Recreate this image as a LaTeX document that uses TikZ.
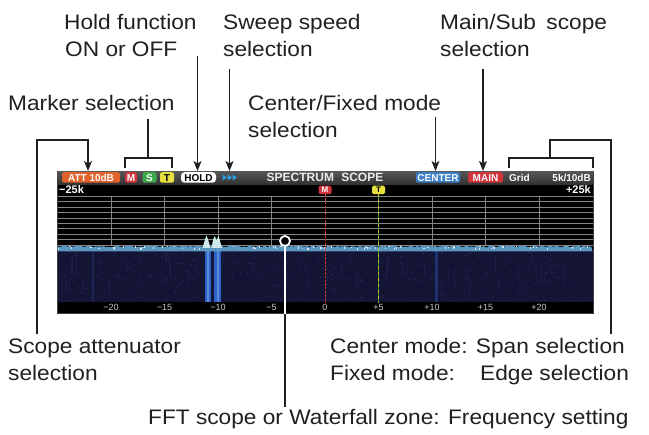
\documentclass[tikz,border=0pt]{standalone}
\usepackage{fontspec}
\setmainfont{Liberation Sans}
\newfontfamily\lblfont{Liberation Sans}[FakeStretch=1.08]
\usetikzlibrary{arrows.meta,calc}
\definecolor{ink}{HTML}{231F20}
\definecolor{attor}{HTML}{E2622B}
\definecolor{mred}{HTML}{D2343C}
\definecolor{sgreen}{HTML}{3DAA4A}
\definecolor{tyel}{HTML}{E6E03C}
\definecolor{cblue}{HTML}{3C7EC4}
\definecolor{sweepb}{HTML}{2E9BE0}
\definecolor{gridc}{HTML}{858585}
\definecolor{noise}{HTML}{5A98C2}
\definecolor{peak}{HTML}{CDEBEE}
\definecolor{wfall}{HTML}{141434}
\definecolor{wspeck}{HTML}{23234F}
\definecolor{band}{HTML}{2B62C8}
\definecolor{axisc}{HTML}{C8C8C8}
\definecolor{mkgreen}{HTML}{3A9A3A}
\definecolor{mkyel}{HTML}{C8C030}
\tikzset{
  lbl/.style={font=\lblfont\fontsize{21}{27}\selectfont, text=ink, inner sep=0, anchor=base west},
  conn/.style={draw=ink, line width=1.1pt},
  arr/.style={conn, -{Stealth[length=10pt,width=8pt,inset=2.5pt]}},
  tag/.style={rounded corners=2.2pt, inner sep=0, minimum height=10.5pt, text height=7.3pt, text depth=0pt, text=white, font=\bfseries\fontsize{10}{10}\selectfont},
  scr/.style={inner sep=0, text=white, font=\bfseries\fontsize{10}{10}\selectfont},
  axl/.style={inner sep=0, text=axisc, font=\fontsize{9}{9}\selectfont},
  mkbox/.style={rounded corners=1.5pt, inner sep=0, minimum width=13pt, minimum height=8.5pt, text height=6pt, text depth=0pt, font=\bfseries\fontsize{8}{8}\selectfont}
}
\begin{document}
\begin{tikzpicture}[x=1pt,y=-1pt]
\useasboundingbox[fill=white] (0,0) rectangle (649,435);

% ---------- scope body ----------
\node[fill=black, draw=black!75, line width=0.8pt, minimum width=536pt, minimum height=142pt, anchor=north west, inner sep=0] (scope) at (57,171) {};
\node[top color=black!66, bottom color=black!80, minimum width=535pt, minimum height=13pt, anchor=north west, inner sep=0] (bar) at (57.5,171) {};

% grid
\foreach \k in {0,...,9}
  \draw[gridc, line width=0.55pt] (57.5,{196+\k*5.45}) -- (592.5,{196+\k*5.45});
\foreach \k in {-4,-3,-2,-1,2,3,4}
  \draw[gridc, line width=0.6pt] ({325+\k*53.5},196) -- ({325+\k*53.5},246);

% waterfall
\fill[wfall] (57.5,251) rectangle (592.5,302);
\pgfmathsetseed{11}
\foreach \i in {1,...,450}
  \fill[wspeck] ({58+532*rnd},{252+49*rnd}) rectangle +(1.5,1);
\foreach \i in {1,...,50}
  \fill[wspeck!60!wfall] ({58+532*rnd},{252+30*rnd}) rectangle +(0.8,{6+14*rnd});
\fill[band!22!wfall] (92,251) rectangle (94,302);
\fill[band!40!wfall] (435,251) rectangle (437.5,302);
\fill[band] (205,251) rectangle (210.5,302);
\fill[band] (214,251) rectangle (221,302);
\fill[band!75!white] (207,251) rectangle (208.5,302);
\fill[band!75!white] (216.5,251) rectangle (218.5,302);

% spectrum noise band
\fill[noise] (57.5,251.5) \foreach \i in {0,...,267} { -- ({57.5+\i*2},{247.3-1.8*rnd}) } -- (592.5,251.5) -- cycle;
\foreach \i in {1,...,80}
  \fill[white!75!noise] ({58+532*rnd},{245.5+3*rnd}) rectangle +(1.2,1.6);
\fill[peak] (202.5,248) -- (204.5,241) -- (206.5,235.5) -- (208.5,241) -- (210.5,248) -- cycle;
\fill[peak] (211.5,248) -- (213,240) -- (214.8,236) -- (216.5,240.5) -- (218.5,236) -- (220,241) -- (222,248) -- cycle;

% markers
\draw[mred, line width=0.9pt, dash pattern=on 2.5pt off 1.2pt] (325,194.5) -- (325,303);
\draw[mkgreen, line width=0.9pt] (378.5,194.5) -- (378.5,303);
\draw[mkyel, line width=0.9pt, dash pattern=on 3pt off 3pt] (378.5,194.5) -- (378.5,303);

% top bar contents
\node[tag, fill=attor, minimum width=58pt] (att) at (91,177.5) {ATT 10dB};
\node[tag, fill=mred, minimum width=12pt] (mk) at (131,177.5) {M};
\node[tag, fill=sgreen, minimum width=14pt] (sk) at (149.5,177.5) {S};
\node[tag, fill=tyel, text=black, minimum width=14pt] (tk) at (167,177.5) {T};
\node[tag, fill=white, text=black, rounded corners=3.5pt, minimum width=35pt] (hold) at (198.5,177.5) {HOLD};
\coordinate (sweep) at (229.5,177.5);
\foreach \dx in {-7,-2,3}
  \fill[sweepb] ($(sweep)+(\dx,-3)$) -- ++(4.6,3) -- ++(-4.6,3) -- cycle;
\node[inner sep=0, text=white!92!black, font=\bfseries\fontsize{12}{12}\selectfont] (title) at (325,177.8) {SPECTRUM\hspace{0.6em}SCOPE};
\node[tag, fill=cblue, minimum width=44pt] (center) at (438,177.5) {CENTER};
\node[tag, fill=mred, minimum width=35pt] (main) at (485.5,177.5) {MAIN};
\node[scr, anchor=west] (grid) at (509,177.5) {Grid};
\node[scr, anchor=east] (span) at (591,177.5) {5k/10dB};

% second row
\node[scr, anchor=west, font=\bfseries\fontsize{11}{11}\selectfont] (lo) at (59,189.5) {−25k};
\node[scr, anchor=east, font=\bfseries\fontsize{11}{11}\selectfont] (hi) at (591,189.5) {+25k};
\node[mkbox, fill=mred, text=white] (mm) at (325,190) {M};
\node[mkbox, fill=tyel, text=black] (tm) at (378.5,190) {T};

% bottom scale
\foreach \k/\t in {-4/−20,-3/−15,-2/−10,-1/−5,0/0,1/+5,2/+10,3/+15,4/+20}
  \node[axl] (ax\k) at ({325+\k*53.5},307.8) {\t};

% FFT point
\node[circle, draw=white, line width=1.8pt, fill=black, minimum size=10pt, inner sep=0] (fftpt) at (285,241) {};

% ---------- labels ----------
\node[lbl] (hold1) at (64,29.5) {Hold function};
\node[lbl] (hold2) at (65,56.5) {ON or OFF};
\node[lbl] (sw1) at (223,29.5) {Sweep speed};
\node[lbl] (sw2) at (223,56.5) {selection};
\node[lbl] (ms1) at (440,29.5) {Main/Sub\hspace{0.5em}scope};
\node[lbl] (ms2) at (440,56.5) {selection};
\node[lbl] (mks) at (8,111) {Marker selection};
\node[lbl] (cf1) at (248,111) {Center/Fixed mode};
\node[lbl] (cf2) at (248,138) {selection};
\node[lbl] (sa1) at (8,353.5) {Scope attenuator};
\node[lbl] (sa2) at (8,380.5) {selection};
\node[lbl] (cm1) at (330,353.5) {Center mode:\hspace{0.4em}Span selection};
\node[lbl] (cm2) at (330,380.5) {Fixed mode:\hspace{1.2em}Edge selection};
\node[lbl] (fft) at (148,425) {FFT scope or Waterfall zone: Frequency setting};

% ---------- connectors ----------
\coordinate (h0) at (197.5,56);
\draw[arr] (h0) -- (h0 |- bar.north);
\coordinate (s0) at (229.5,69);
\draw[arr] (s0) -- (s0 |- bar.north);
\coordinate (c0) at (435.5,117);
\draw[arr] (c0) -- (c0 |- bar.north);
\coordinate (n0) at (483,69);
\draw[arr] (n0) -- (n0 |- bar.north);

\coordinate (a0) at (37,334);
\coordinate (a1) at (88,140);
\draw[arr] (a0) |- (a1) -- (a1 |- bar.north);

\coordinate (m0) at (148,119);
\coordinate (mb) at (148,158);
\coordinate (mL) at (125,168);
\coordinate (mR) at (172,168);
\draw[conn] (m0) -- (mb);
\draw[conn] (mL) |- (mb) -| (mR);

\coordinate (gL) at (509,168);
\coordinate (gR) at (593,168);
\coordinate (gb) at (550,158);
\coordinate (g1) at (611,140);
\coordinate (g2) at (611,334);
\draw[conn] (gL) |- (gb) -| (gR);
\draw[conn] (gb) |- (g1) -- (g2);

\draw[white, line width=1.4pt] (fftpt.south) -- (fftpt.south |- scope.south);
\draw[conn] (fftpt.south |- scope.south) -- (fftpt.south |- 0,407);
\end{tikzpicture}
\end{document}
